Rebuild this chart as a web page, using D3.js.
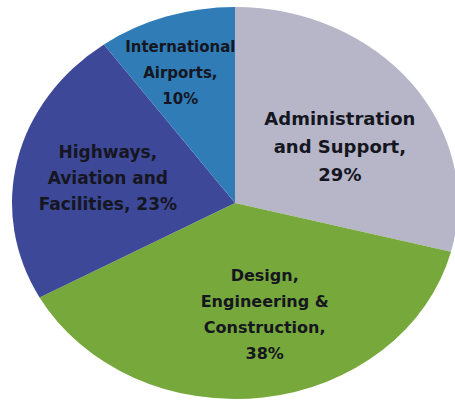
<!DOCTYPE html>
<html>
<head>
<meta charset="utf-8">
<script src="https://cdn.jsdelivr.net/npm/d3@7"></script>
<style>
  body { margin: 0; background: #fff; }
  text { font-family: "DejaVu Sans", Verdana, sans-serif; font-weight: bold; fill: #15161f; }
</style>
</head>
<body>
<div id="chart"></div>
<script>
// slice data, clockwise from 12 o'clock
var categories = ["Administration and Support", "Design, Engineering & Construction",
                  "Highways, Aviation and Facilities", "International Airports"];
var shares = [29, 38, 23, 10];
var labelLines = [
    ["Administration", "and Support,", "29%"],
    ["Design,", "Engineering &", "Construction,", "38%"],
    ["Highways,", "Aviation and", "Facilities, 23%"],
    ["International", "Airports,", "10%"]
];
var colors = ["#b6b6c8", "#77a83b", "#3d4898", "#2f7cb6"];

var width = 455, height = 403;
var cx = 235, cy = 203, ry = 196, sx = 223 / 196; // pie is stretched sideways

// label tweaks: nudge from centroid, font size, line height
var labelLayout = [
    {dx: 6, dy: 11, size: 18, lh: 28},
    {dx: 14, dy: 2, size: 16, lh: 26},
    {dx: -5, dy: -1, size: 17, lh: 26},
    {dx: -16, dy: -26, size: 15, lh: 26}
];

var svg = d3.select("#chart").append("svg")
    .attr("width", width)
    .attr("height", height);

var pie = d3.pie().sort(null).value(function(d) { return d; });
var arcs = pie(shares);

var arc = d3.arc().innerRadius(0).outerRadius(ry);
var labelArc = d3.arc().innerRadius(110).outerRadius(110);

var g = svg.append("g")
    .attr("transform", "translate(" + cx + "," + cy + ")");

g.append("g")
    .attr("transform", "scale(" + sx + ",1)")
    .selectAll("path")
    .data(arcs)
    .enter().append("path")
    .attr("d", arc)
    .style("fill", function(d, i) { return colors[i]; });

arcs.forEach(function(d, i) {
    var c = labelArc.centroid(d);
    var lay = labelLayout[i];
    var lines = labelLines[i];
    var t = g.append("text")
        .attr("text-anchor", "middle")
        .style("font-size", lay.size + "px")
        .attr("transform", "translate(" + (c[0] * sx + lay.dx) + "," + (c[1] + lay.dy) + ")");
    lines.forEach(function(line, j) {
        t.append("tspan")
            .attr("x", 0)
            .attr("y", (j - (lines.length - 1) / 2) * lay.lh)
            .attr("dy", "0.36em")
            .text(line);
    });
});
</script>
</body>
</html>
